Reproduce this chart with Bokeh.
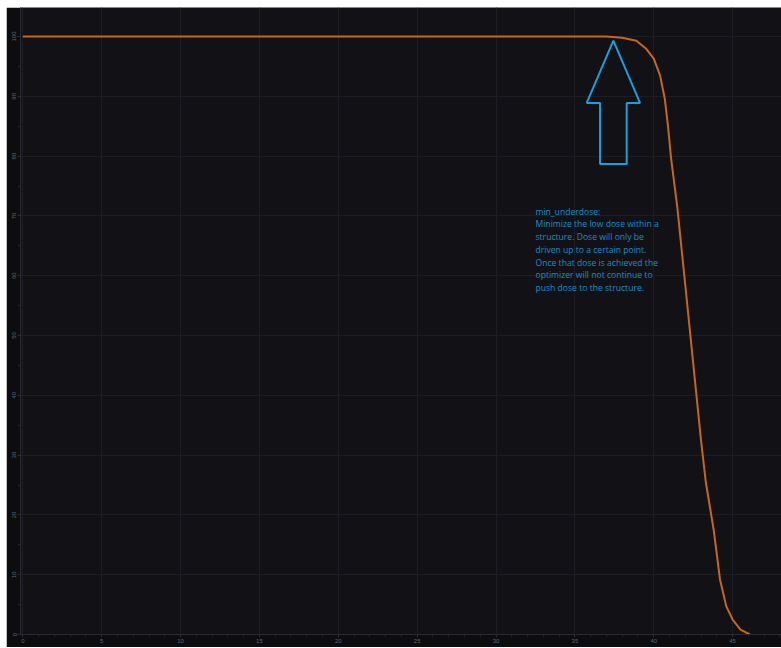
from bokeh.plotting import figure
from bokeh.models import Range1d, Label, SingleIntervalTicker
from bokeh.embed import file_html
from bokeh.resources import INLINE

# DVH curve data (dose in Gy, volume in %)
dose = [0, 37, 38.0, 38.9, 39.5, 40.0, 40.4, 40.7, 40.9, 41.1, 41.5, 42.0,
        42.5, 43.0, 43.3, 43.8, 44.2, 44.6, 45.0, 45.5, 46.1]
volume = [100, 100, 99.8, 99.3, 98.0, 96.3, 93.5, 89.6, 85.1, 79.6, 71.3, 58.4,
          45.4, 32.4, 25.5, 17.5, 9.2, 4.7, 2.5, 0.8, 0]

note_text = ("min_underdose:\n"
             "Minimize the low dose within a\n"
             "structure. Dose will only be\n"
             "driven up to a certain point.\n"
             "Once that dose is achieved the\n"
             "optimizer will not continue to\n"
             "push dose to the structure.")

# annotation anchor (data units)
arrow_tip = (37.44, 99.3)
arrow_head_half = 1.69
arrow_head_len = 10.4
arrow_shaft_half = 0.845
arrow_bottom = 78.7
note_pos = (32.5, 71.7)

BG = "#121216"
BORDER = "#0d0d10"
GRID = "#1d1d23"
AXIS = "#2a2a32"
LABEL = "#56687a"
ORANGE = "#c8671a"
BLUE = "#19a0dc"

p = figure(width=775, height=640, output_backend="svg", toolbar_location=None,
           x_range=Range1d(-0.15, 48.1), y_range=Range1d(0, 104.85),
           margin=(7, 0, 0, 6))
p.background_fill_color = BG
p.border_fill_color = BORDER
p.outline_line_color = None
p.min_border_left = 14
p.min_border_right = 0
p.min_border_top = 0
p.min_border_bottom = 13

p.xaxis.ticker = SingleIntervalTicker(interval=5, num_minor_ticks=5)
p.yaxis.ticker = SingleIntervalTicker(interval=10, num_minor_ticks=2)
for ax in (p.xaxis[0], p.yaxis[0]):
    ax.axis_line_color = AXIS
    ax.major_tick_line_color = AXIS
    ax.minor_tick_line_color = AXIS
    ax.major_tick_out = 3
    ax.major_tick_in = 0
    ax.minor_tick_out = 2
    ax.minor_tick_in = 0
    ax.major_label_text_color = LABEL
    ax.major_label_text_font_size = "6px"
    ax.major_label_standoff = 1
p.yaxis.major_label_orientation = "vertical"

p.xgrid.grid_line_color = GRID
p.ygrid.grid_line_color = GRID

p.line(dose, volume, line_color=ORANGE, line_width=2, line_join="round")

tx, ty = arrow_tip
ax_pts = [tx, tx + arrow_head_half, tx + arrow_shaft_half, tx + arrow_shaft_half,
          tx - arrow_shaft_half, tx - arrow_shaft_half, tx - arrow_head_half]
ay_pts = [ty, ty - arrow_head_len, ty - arrow_head_len, arrow_bottom,
          arrow_bottom, ty - arrow_head_len, ty - arrow_head_len]
p.patch(ax_pts, ay_pts, fill_alpha=0, line_color=BLUE, line_width=2)

p.add_layout(Label(x=note_pos[0], y=note_pos[1], text=note_text,
                   text_color="#1a8cca", text_font_size="8.6px",
                   text_font="Open Sans", text_baseline="top",
                   text_line_height=1.06))

open("out.html", "w").write(file_html(p, INLINE))
